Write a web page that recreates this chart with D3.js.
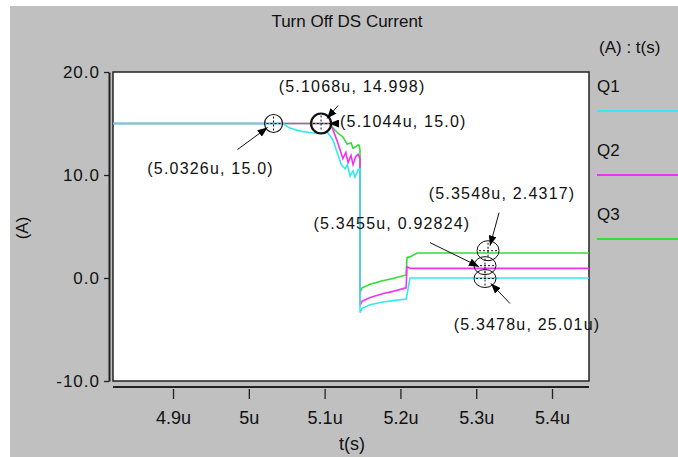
<!DOCTYPE html>
<html>
<head>
<meta charset="utf-8">
<script src="https://cdn.jsdelivr.net/npm/d3@7"></script>
<style>
html, body { margin: 0; padding: 0; background: #fff; }
svg { display: block; font-family: "Liberation Sans", Arial, sans-serif; }
</style>
</head>
<body>
<svg id="chart"></svg>
<script>
// values: time in µs, current in A
const seriesNames = ["Q1", "Q2", "Q3"];
const seriesColors = ["#33eaf0", "#f033f0", "#33dd33"];

const q1 = [[4.8208, 15.0], [5.045, 15.0], [5.054, 14.55], [5.0675, 14.26], [5.087, 14.06], [5.104, 14.12],
  [5.111, 13.4], [5.122, 11.0], [5.127, 10.6], [5.130, 11.0], [5.1335, 9.9], [5.1375, 10.4], [5.140, 9.8],
  [5.1441, 10.5], [5.1467, 10.6], [5.1467, -3.37], [5.1495, -2.95], [5.16, -2.6], [5.175, -2.35],
  [5.19, -2.2], [5.2075, -2.05], [5.2087, -1.6], [5.2127, 0.0], [5.4488, 0.0]];

const q2 = [[4.8208, 15.0], [5.107, 15.0], [5.111, 14.4], [5.117, 13.2], [5.124, 11.6], [5.128, 12.2],
  [5.1309, 11.2], [5.1348, 11.9], [5.1375, 11.0], [5.141, 11.8], [5.1441, 12.0], [5.1467, 11.6],
  [5.1467, -2.69], [5.1495, -2.25], [5.16, -1.9], [5.175, -1.55], [5.19, -1.3], [5.2075, -0.95],
  [5.2087, 1.1], [5.2127, 0.93], [5.4488, 0.93]];

const q3 = [[4.8208, 15.0], [5.108, 15.0], [5.111, 14.55], [5.117, 14.1], [5.124, 13.7], [5.1296, 13.0],
  [5.135, 13.1], [5.1375, 12.6], [5.1441, 12.9], [5.1454, 12.9], [5.1467, 12.4], [5.1467, -1.42],
  [5.1495, -0.95], [5.16, -0.6], [5.175, -0.3], [5.19, -0.05], [5.2075, 0.3], [5.2087, 2.0],
  [5.2127, 2.05], [5.222, 2.43], [5.4488, 2.43]];

const xTicks = [4.9, 5.0, 5.1, 5.2, 5.3, 5.4];
const yTicks = [-10, 0, 10, 20];

// cursor markers (where they sit on the plot) and their readouts
const markerPoints = [[5.0326, 15.0], [5.0953, 15.0], [5.3156, 2.65], [5.3116, 1.2], [5.3116, -0.05]];
const annotationLabels = ["(5.0326u, 15.0)", "(5.1068u, 14.998)", "(5.1044u, 15.0)",
  "(5.3548u, 2.4317)", "(5.3455u, 0.92824)", "(5.3478u, 25.01u)"];

const W = 678, H = 457;
const plot = { left: 113, right: 589, top: 72, bottom: 381 };

const svg = d3.select("#chart").attr("width", W).attr("height", H);

svg.append("rect").attr("x", 10).attr("y", 6).attr("width", W - 10).attr("height", H - 6).attr("fill", "#c0c0c0");

const x = d3.scaleLinear().domain([4.8208, 5.4488]).range([plot.left, plot.right]);
const y = d3.scaleLinear().domain([-10, 20]).range([plot.bottom, plot.top]);

// plot frame
svg.append("rect")
  .attr("x", plot.left).attr("y", plot.top)
  .attr("width", plot.right - plot.left).attr("height", plot.bottom - plot.top)
  .attr("fill", "#fff").attr("stroke", "#222").attr("stroke-width", 1.5);

// title and unit note
svg.append("text").attr("x", 347).attr("y", 27).attr("text-anchor", "middle")
  .attr("font-size", 17).attr("fill", "#111").text("Turn Off DS Current");
svg.append("text").attr("x", 599).attr("y", 53)
  .attr("font-size", 17).attr("fill", "#111").text("(A) : t(s)");

// y axis
const yAxis = svg.append("g").attr("transform", `translate(109,0)`)
  .call(d3.axisLeft(y).tickValues(yTicks).tickFormat(d => d.toFixed(1)).tickSizeInner(5).tickSizeOuter(0).tickPadding(4));
yAxis.select(".domain").attr("stroke", "#222").attr("stroke-width", 2);
yAxis.selectAll(".tick line").attr("stroke", "#222").attr("stroke-width", 1.3);
yAxis.selectAll(".tick text").attr("font-size", 17).attr("letter-spacing", "1px").attr("fill", "#111")
  .attr("font-family", "Liberation Sans, Arial, sans-serif");

svg.append("text").attr("transform", "translate(28,228) rotate(-90)").attr("text-anchor", "middle")
  .attr("font-size", 17).attr("fill", "#111").text("(A)");

// x axis: line slightly below the frame, ticks hanging under it
svg.append("line").attr("x1", plot.left).attr("x2", plot.right).attr("y1", 387).attr("y2", 387)
  .attr("stroke", "#222").attr("stroke-width", 2);
const xAxis = svg.append("g").attr("transform", `translate(0,389)`)
  .call(d3.axisBottom(x).tickValues(xTicks).tickFormat(d => `${+d.toFixed(1)}u`).tickSizeInner(10).tickSizeOuter(0).tickPadding(12));
xAxis.select(".domain").remove();
xAxis.selectAll(".tick line").attr("stroke", "#222").attr("stroke-width", 1.3);
xAxis.selectAll(".tick text").attr("font-size", 18).attr("fill", "#111")
  .attr("font-family", "Liberation Sans, Arial, sans-serif");

svg.append("text").attr("x", 352).attr("y", 450).attr("text-anchor", "middle")
  .attr("font-size", 18).attr("fill", "#111").text("t(s)");

// series, Q3 first so Q1 sits on top
svg.append("clipPath").attr("id", "clip").append("rect")
  .attr("x", plot.left).attr("y", plot.top).attr("width", plot.right - plot.left).attr("height", plot.bottom - plot.top);

const line = d3.line().x(d => x(d[0])).y(d => y(d[1]));
const seriesData = [q1, q2, q3];
const gLines = svg.append("g").attr("clip-path", "url(#clip)");
[2, 1, 0].forEach(i => {
  gLines.append("path").datum(seriesData[i])
    .attr("d", line).attr("fill", "none")
    .attr("stroke", seriesColors[i]).attr("stroke-width", 1.6);
});

// legend at the right
seriesNames.forEach((name, i) => {
  const cy = 86 + i * 64;
  svg.append("text").attr("x", 597).attr("y", cy + 6).attr("font-size", 17).attr("fill", "#111").text(name);
  svg.append("line").attr("x1", 597).attr("x2", W).attr("y1", cy + 25).attr("y2", cy + 25)
    .attr("stroke", seriesColors[i]).attr("stroke-width", 2);
});

// arrowhead
svg.append("defs").append("marker").attr("id", "arrow")
  .attr("viewBox", "0 0 10 8").attr("refX", 10).attr("refY", 4)
  .attr("markerWidth", 10).attr("markerHeight", 8).attr("markerUnits", "userSpaceOnUse")
  .attr("orient", "auto")
  .append("path").attr("d", "M0,0 L10,4 L0,8 Z").attr("fill", "#000");

// cursor markers
const markerStyle = [
  { r: 9, ry: 9, w: 1.2 }, { r: 10, ry: 10, w: 2.2 },
  { r: 11, ry: 10, w: 1 }, { r: 11, ry: 9, w: 1 }, { r: 11, ry: 9, w: 1 }
];
markerPoints.forEach((p, i) => {
  const cx = x(p[0]), cy = y(p[1]), s = markerStyle[i];
  const g = svg.append("g");
  g.append("ellipse").attr("cx", cx).attr("cy", cy).attr("rx", s.r).attr("ry", s.ry)
    .attr("fill", "none").attr("stroke", "#111").attr("stroke-width", s.w);
  g.append("line").attr("x1", cx - s.r + 2).attr("x2", cx + s.r - 2).attr("y1", cy).attr("y2", cy)
    .attr("stroke", "#111").attr("stroke-dasharray", "2,2").attr("stroke-width", 1);
  g.append("line").attr("x1", cx).attr("x2", cx).attr("y1", cy - s.ry + 2).attr("y2", cy + s.ry - 2)
    .attr("stroke", "#111").attr("stroke-dasharray", "2,2").attr("stroke-width", 1);
});

// readout labels: [marker index, label dx, label dy, anchor, arrow from dx,dy, arrow to dx,dy]
const annotationLayout = [
  [0, -63, 44, "middle", -36, 26, -6, 4],
  [1, 31, -38, "middle", 17, -18, 6, -5],
  [1, 19, -3, "start", 17, 0, 8, 0],
  [2, 14, -58, "middle", 11, -38, 2, -5],
  [3, -93, -43, "middle", -55, -23, -6, 1],
  [4, 42, 45, "middle", 25, 25, 6, 5]
];
annotationLayout.forEach((a, i) => {
  const p = markerPoints[a[0]];
  const cx = x(p[0]), cy = y(p[1]);
  svg.append("line")
    .attr("x1", cx + a[4]).attr("y1", cy + a[5]).attr("x2", cx + a[6]).attr("y2", cy + a[7])
    .attr("stroke", "#111").attr("stroke-width", 1).attr("marker-end", "url(#arrow)");
  svg.append("text").attr("x", cx + a[1]).attr("y", cy + a[2] + 6)
    .attr("text-anchor", a[3]).attr("font-size", 16).attr("letter-spacing", "1.2px")
    .attr("fill", "#111").text(annotationLabels[i]);
});
</script>
</body>
</html>
